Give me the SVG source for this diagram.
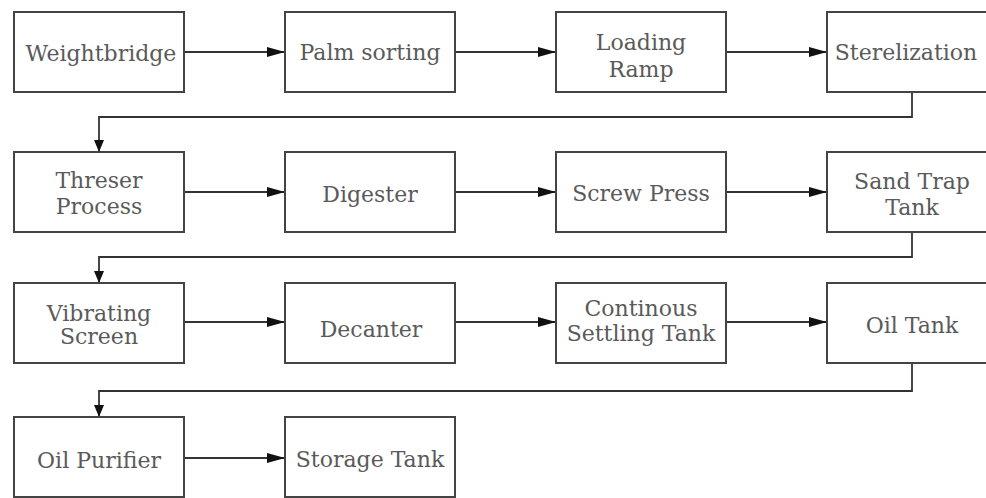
<svg xmlns="http://www.w3.org/2000/svg" width="986" height="498" viewBox="0 0 986 498">
<style>
.box{fill:#fff;stroke:#444;stroke-width:2}
.t{font-family:"DejaVu Serif","Liberation Serif",serif;font-size:22px;fill:#5a5a5a;text-anchor:middle}
.c{fill:none;stroke:#333;stroke-width:1.8}
</style>
<defs>
<marker id="ah" markerWidth="18" markerHeight="10" refX="18" refY="5" orient="auto" markerUnits="userSpaceOnUse">
<path d="M0,0 L18,5 L0,10 z" fill="#111"/>
</marker>
<marker id="av" markerWidth="12" markerHeight="10" refX="12" refY="5" orient="auto" markerUnits="userSpaceOnUse">
<path d="M0,0 L12,5 L0,10 z" fill="#111"/>
</marker>
</defs>
<rect width="986" height="498" fill="#fff"/>
<g id="connectors">
<line class="c" x1="184" y1="52" x2="285" y2="52" marker-end="url(#ah)"/>
<line class="c" x1="455" y1="52" x2="556" y2="52" marker-end="url(#ah)"/>
<line class="c" x1="726" y1="52" x2="827" y2="52" marker-end="url(#ah)"/>
<polyline class="c" points="912,92 912,117 99,117 99,152" marker-end="url(#av)"/>
<line class="c" x1="184" y1="192" x2="285" y2="192" marker-end="url(#ah)"/>
<line class="c" x1="455" y1="192" x2="556" y2="192" marker-end="url(#ah)"/>
<line class="c" x1="726" y1="192" x2="827" y2="192" marker-end="url(#ah)"/>
<polyline class="c" points="912,232 912,257 99,257 99,283" marker-end="url(#av)"/>
<line class="c" x1="184" y1="322" x2="285" y2="322" marker-end="url(#ah)"/>
<line class="c" x1="455" y1="322" x2="556" y2="322" marker-end="url(#ah)"/>
<line class="c" x1="726" y1="322" x2="827" y2="322" marker-end="url(#ah)"/>
<polyline class="c" points="912,363 912,391 99,391 99,417" marker-end="url(#av)"/>
<line class="c" x1="184" y1="458" x2="285" y2="458" marker-end="url(#ah)"/>
</g>
<g id="weightbridge"><rect class="box" x="14" y="12" width="170" height="80"/><text class="t" x="101" y="61" font-size="23">Weightbridge</text></g>
<g id="palm-sorting"><rect class="box" x="285" y="12" width="170" height="80"/><text class="t" x="370" y="60">Palm sorting</text></g>
<g id="loading-ramp"><rect class="box" x="556" y="12" width="170" height="80"/><text class="t" x="641" y="50">Loading</text><text class="t" x="641" y="77">Ramp</text></g>
<g id="sterelization"><rect class="box" x="827" y="12" width="170" height="80"/><text class="t" x="906" y="60">Sterelization</text></g>
<g id="threser-process"><rect class="box" x="14" y="152" width="170" height="80"/><text class="t" x="99" y="188">Threser</text><text class="t" x="99" y="214">Process</text></g>
<g id="digester"><rect class="box" x="285" y="152" width="170" height="80"/><text class="t" x="370" y="202" font-size="25">Digester</text></g>
<g id="screw-press"><rect class="box" x="556" y="152" width="170" height="80"/><text class="t" x="641" y="201">Screw Press</text></g>
<g id="sand-trap-tank"><rect class="box" x="827" y="152" width="170" height="80"/><text class="t" x="912" y="189">Sand Trap</text><text class="t" x="912" y="215">Tank</text></g>
<g id="vibrating-screen"><rect class="box" x="14" y="283" width="170" height="80"/><text class="t" x="99" y="321">Vibrating</text><text class="t" x="99" y="344">Screen</text></g>
<g id="decanter"><rect class="box" x="285" y="283" width="170" height="80"/><text class="t" x="371" y="337">Decanter</text></g>
<g id="continous-settling-tank"><rect class="box" x="556" y="283" width="170" height="80"/><text class="t" x="641" y="316">Continous</text><text class="t" x="641" y="341">Settling Tank</text></g>
<g id="oil-tank"><rect class="box" x="827" y="283" width="170" height="80"/><text class="t" x="912" y="333" font-size="23">Oil Tank</text></g>
<g id="oil-purifier"><rect class="box" x="14" y="417" width="170" height="80"/><text class="t" x="99" y="468" font-size="24">Oil Purifier</text></g>
<g id="storage-tank"><rect class="box" x="285" y="417" width="170" height="80"/><text class="t" x="370" y="467" font-size="21">Storage Tank</text></g>
</svg>
